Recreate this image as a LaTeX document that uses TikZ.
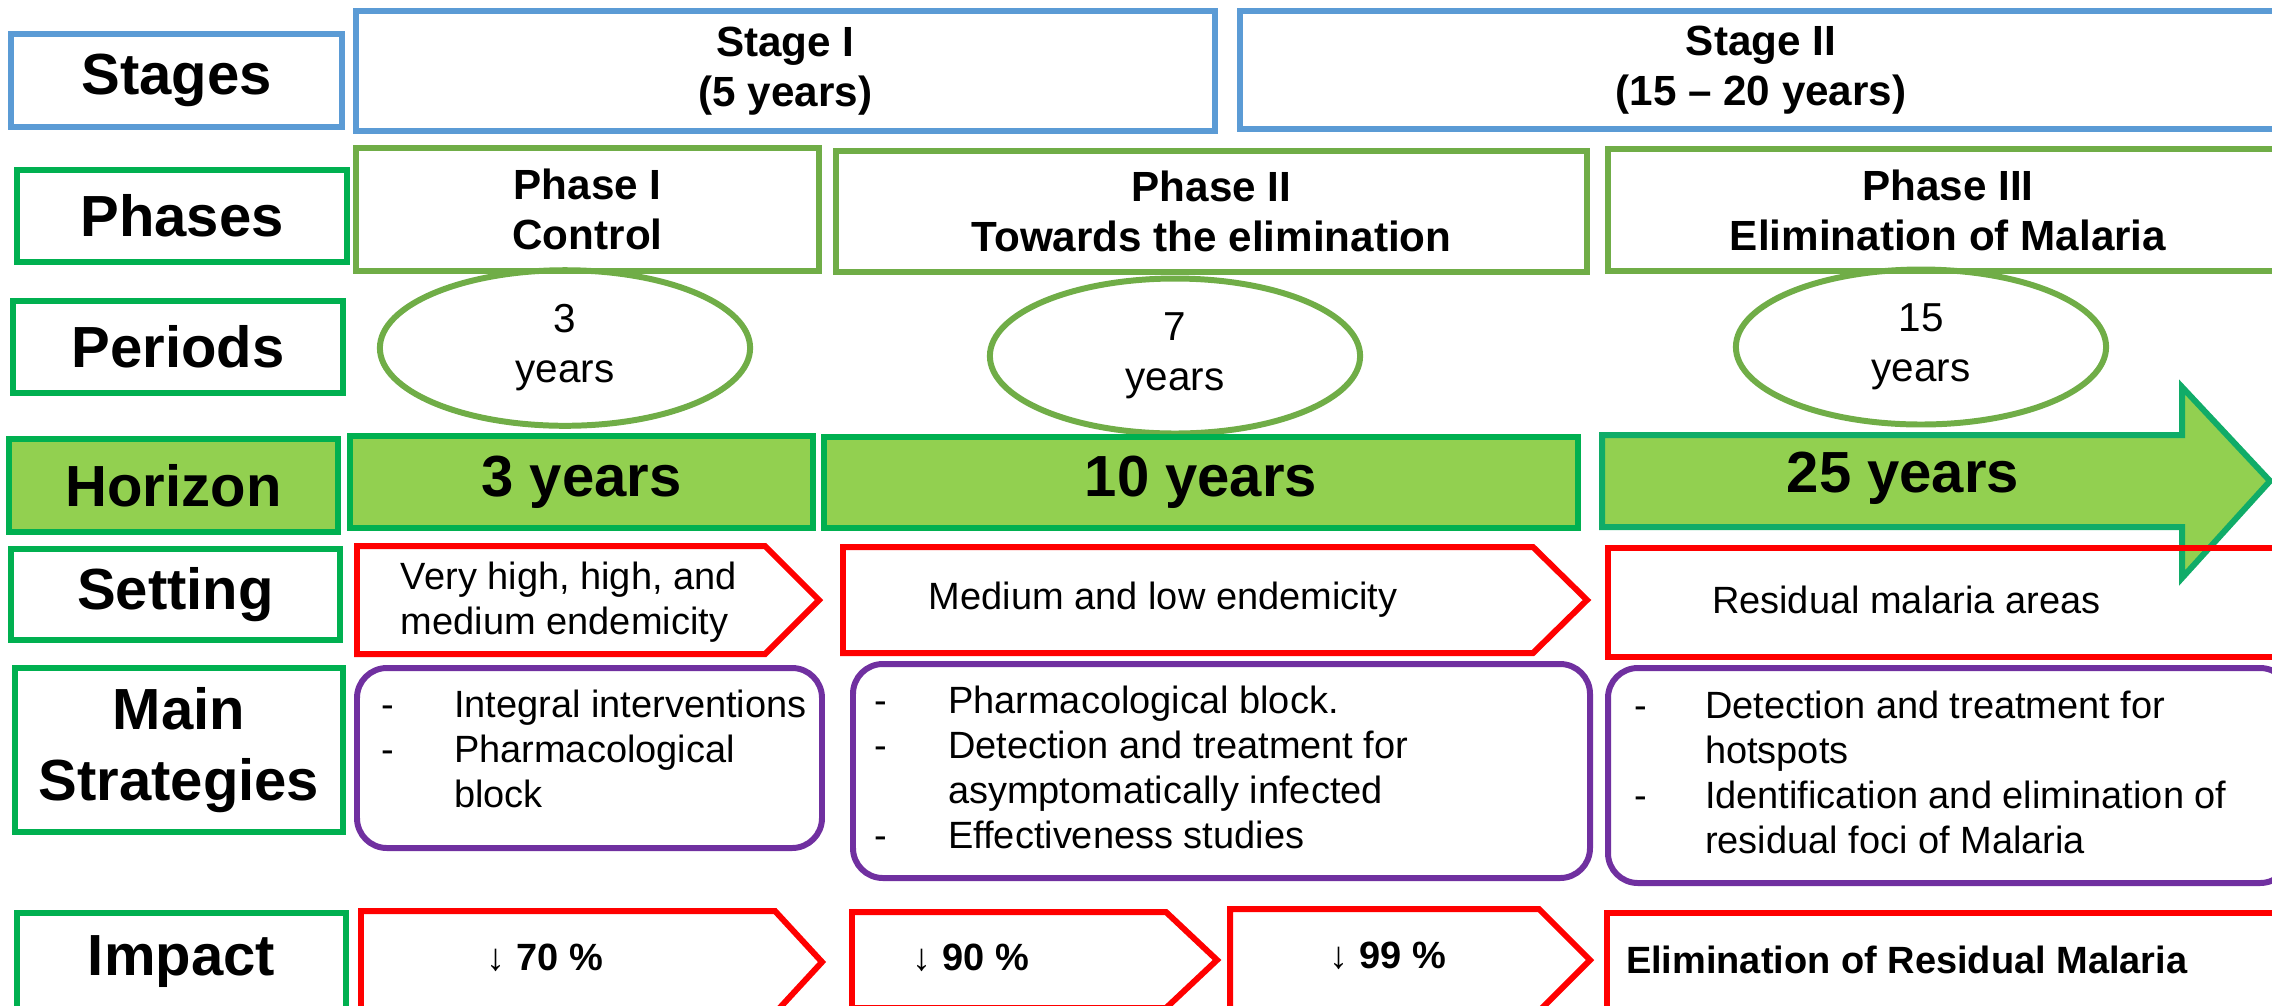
\documentclass[tikz,border=0pt]{standalone}
\usepackage{fontspec}
\setmainfont{Liberation Sans}
\usepackage{tikz}
\usetikzlibrary{shapes.geometric}
\definecolor{stageblue}{RGB}{91,155,213}
\definecolor{labelgreen}{RGB}{0,176,80}
\definecolor{phasegreen}{RGB}{112,173,71}
\definecolor{horizonfill}{RGB}{146,208,80}
\definecolor{arrowgreen}{RGB}{16,172,104}
\definecolor{stratpurple}{RGB}{112,48,160}

\begin{document}
\begin{tikzpicture}[x=0.01cm,y=-0.01cm,line width=1.7pt,
  rowlabel/.style={text=black,font=\fontsize{16.5}{20}\selectfont\bfseries,align=center},
  headtxt/.style={text=black,font=\fontsize{12}{14.2}\selectfont\bfseries,align=center},
  bigtxt/.style={text=black,font=\fontsize{16.5}{20}\selectfont\bfseries},
  smalltxt/.style={text=black,font=\fontsize{10.8}{12.8}\selectfont,align=left,inner sep=0pt},
  period/.style={draw=phasegreen,ellipse,minimum width=3.7cm,minimum height=1.24cm,
    align=center,font=\fontsize{11.5}{14.2}\selectfont},
  redbox/.style={draw=red},
  stratbox/.style={draw=stratpurple,rounded corners=8.5pt}]
\useasboundingbox (0,0) rectangle (2272,1005);
% row labels
\draw[stageblue] (11,34) rectangle (342,127) node[pos=.5,rowlabel] (stages) {Stages};
\draw[labelgreen] (17,170) rectangle (347,262) node[pos=.5,rowlabel] (phases) {Phases};
\draw[labelgreen] (13,301) rectangle (343,393) node[pos=.5,rowlabel] (periods) {Periods};
\draw[labelgreen,fill=horizonfill] (9,439) rectangle (338,532) node[pos=.5,rowlabel] (horizon) {Horizon};
\draw[labelgreen] (11,549) rectangle (340,640) node[pos=.5,rowlabel] (setting) {Setting};
\draw[labelgreen] (15,668) rectangle (343,832) node[pos=.5,rowlabel] (strategies) {Main\\Strategies};
\draw[labelgreen] (17,913) rectangle (346,1015);
\node[rowlabel] (impact) at (181.5,962) {Impact};
% stages
\draw[stageblue] (356,11) rectangle (1215,131) node[pos=.5,headtxt] (stage1) {Stage I\\(5 years)};
\draw[stageblue] (1240,11) rectangle (2290,129);
\node[headtxt] (stage2) at (1761,70) {Stage II\\(15 -- 20 years)};
% phases
\draw[phasegreen] (356,148) rectangle (819,271) node[pos=.5,headtxt] (phase1) {Phase I\\Control};
\draw[phasegreen] (836,151) rectangle (1587,272) node[pos=.5,headtxt] (phase2) {Phase II\\Towards the elimination};
\draw[phasegreen] (1608,149) rectangle (2290,271);
\node[headtxt] (phase3) at (1948,210) {Phase III\\Elimination of Malaria};
% periods
\node[period] (per1) at (565,348) {3\\years};
\node[period] (per2) at (1175,356) {7\\years};
\node[period] (per3) at (1921,347) {15\\years};
% horizon
\draw[labelgreen,fill=horizonfill] (350,436) rectangle (813,528) node[pos=.5,bigtxt] (hor1) {3 years};
\draw[labelgreen,fill=horizonfill] (824,437) rectangle (1578,528) node[pos=.5,bigtxt] (hor2) {10 years};
\draw[arrowgreen,fill=horizonfill] (1602,435) -- (2182,435) -- (2182,387) -- (2270,481)
  -- (2182,578) -- (2182,527) -- (1602,527) -- cycle;
\node[bigtxt] (hor3) at (1903,478) {25 years};
% setting
\draw[redbox] (357,546) -- (765,546) -- (819,600) -- (765,654) -- (357,654) -- cycle;
\node[smalltxt,anchor=west] (set1) at (398,602) {Very high, high, and\\medium endemicity};
\draw[redbox] (843,547) -- (1533,547) -- (1587,600) -- (1533,653) -- (843,653) -- cycle;
\node[smalltxt,anchor=west] (set2) at (926,600) {Medium and low endemicity};
\draw[redbox] (1608,548) rectangle (2290,657);
\node[smalltxt,anchor=west] (set3) at (1709,600) {Residual malaria areas};
% main strategies
\draw[stratbox] (357,668) rectangle (822,848);
\node[smalltxt,anchor=base west] (str1) at (379,717) {\begin{tabular}[t]{@{}p{20.5pt}@{}l@{}}
  - & Integral interventions\\ - & Pharmacological\\ & block\end{tabular}};
\draw[stratbox] (853,664) rectangle (1590,878);
\node[smalltxt,anchor=base west] (str2) at (872,713) {\begin{tabular}[t]{@{}p{20.8pt}@{}l@{}}
  - & Pharmacological block.\\ - & Detection and treatment for\\ & asymptomatically infected\\
  - & Effectiveness studies\end{tabular}};
\draw[stratbox] (1608,668) rectangle (2290,883);
\node[smalltxt,anchor=base west] (str3) at (1631,718) {\begin{tabular}[t]{@{}p{20.2pt}@{}l@{}}
  - & Detection and treatment for\\ & hotspots\\ - & Identification and elimination of\\
  & residual foci of Malaria\end{tabular}};
% impact
\draw[redbox] (361,911) -- (775,911) -- (822,962) -- (775,1013) -- (361,1013) -- cycle;
\node[smalltxt,font=\fontsize{10.8}{12.8}\selectfont\bfseries] (imp1) at (545,958) {↓ 70 \%};
\draw[redbox] (852,912) -- (1166,912) -- (1217,960) -- (1166,1008) -- (852,1008) -- cycle;
\node[smalltxt,font=\fontsize{10.8}{12.8}\selectfont\bfseries] (imp2) at (971,958) {↓ 90 \%};
\draw[redbox] (1230,909) -- (1539,909) -- (1590,960) -- (1539,1011) -- (1230,1011) -- cycle;
\node[smalltxt,font=\fontsize{10.8}{12.8}\selectfont\bfseries] (imp3) at (1388,956) {↓ 99 \%};
\draw[redbox] (1607,913) rectangle (2290,1020);
\node[smalltxt,anchor=west,font=\fontsize{10.8}{12.8}\selectfont\bfseries] (imp4) at (1623,960) {Elimination of Residual Malaria};
\end{tikzpicture}
\end{document}
